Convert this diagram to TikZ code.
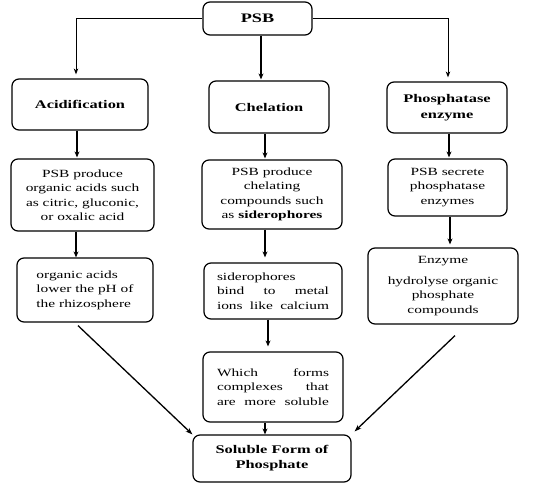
\documentclass[tikz,border=0pt]{standalone}
\usepackage{fontspec}
\setmainfont{Liberation Serif}[FakeStretch=1.4]
\usetikzlibrary{arrows.meta,calc}
\begin{document}
\begin{tikzpicture}[x=1pt,y=-1pt,
  box/.style={draw,line width=1.2pt,rounded corners=7pt,inner sep=0pt,align=center,
    font=\fontsize{11}{14.5}\selectfont},
  thinarr/.style={line width=0.9pt,-{Stealth[length=6pt,width=4.5pt]}},
  thickarr/.style={line width=1.8pt,-{Stealth[length=6pt,width=5pt]}},
  diagarr/.style={line width=1.3pt,-{Stealth[length=7pt,width=5pt]}}]
\useasboundingbox (0,0) rectangle (542,491);
\node[box,minimum width=109pt,minimum height=33pt,font=\fontsize{13}{15}\selectfont\bfseries] (psb) at (257.5,18.5) {PSB};
\node[box,minimum width=136pt,minimum height=51pt,font=\fontsize{11.7}{14.5}\selectfont\bfseries] (acid) at (80,104.5) {Acidification};
\node[box,minimum width=120pt,minimum height=52pt,font=\fontsize{11.7}{14.5}\selectfont\bfseries] (chel) at (269,107) {Chelation};
\node[box,minimum width=120pt,minimum height=51pt,font=\fontsize{11.7}{15.5}\selectfont\bfseries] (phos) at (447,107.5) {Phosphatase\\enzyme};
\node[box,minimum width=143pt,minimum height=72pt] (a2) at (82.5,195) {PSB produce\\organic acids such\\as citric, gluconic,\\or oxalic acid};
\node[box,minimum width=140pt,minimum height=69pt] (c2) at (272,194.5) {PSB produce\\chelating\\compounds such\\as \textbf{siderophores}};
\node[box,minimum width=119pt,minimum height=57pt] (p2) at (447.5,187.5) {PSB secrete\\phosphatase\\enzymes};
\node[box,minimum width=136pt,minimum height=64pt,align=left] (a3) at (85,290) {organic acids\\lower the pH of\\the rhizosphere};
\node[box,minimum width=138pt,minimum height=56pt,align=left] (c3) at (273,291) {\makebox[112pt][l]{siderophores}\\\makebox[112pt][s]{bind to metal}\\\makebox[112pt][s]{ions like calcium}};
\node[box,minimum width=150pt,minimum height=76pt] (p3) at (443,286) {Enzyme\\[6pt]hydrolyse organic\\phosphate\\compounds};
\node[box,minimum width=140pt,minimum height=70pt,align=left] (c4) at (273,387) {\makebox[112pt][s]{Which forms}\\\makebox[112pt][s]{complexes that}\\\makebox[112pt][s]{are more soluble}};
\node[box,minimum width=158pt,minimum height=47pt,font=\fontsize{11.7}{15}\selectfont\bfseries] (sol) at (272,458.5) {Soluble Form of\\Phosphate};
% connectors
\draw[thinarr] (psb.west) -| ($(acid.north)+(-4,-4)$);
\draw[thinarr] (psb.east) -| ($(phos.north)+(1,-4)$);
\draw[thickarr] ($(psb.south)+(3.5,0)$) -- ($(chel.north)+(-8,-1)$);
\draw[thickarr] ($(acid.south)+(-3,0)$) -- ($(a2.north)+(-5.5,-1)$);
\draw[thickarr] ($(chel.south)+(-4,0)$) -- ($(c2.north)+(-7,-1)$);
\draw[thickarr] ($(phos.south)+(2,0)$) -- ($(p2.north)+(1.5,-1)$);
\draw[thickarr] ($(a2.south)+(-6.5,0)$) -- ($(a3.north)+(-9,0)$);
\draw[thickarr] ($(c2.south)+(-7,0)$) -- ($(c3.north)+(-8,-5)$);
\draw[thickarr] ($(p2.south)+(2.5,0)$) -- ($(p3.north)+(7,-3)$);
\draw[thickarr] ($(c3.south)+(-5,0)$) -- ($(c4.north)+(-5,-5)$);
\draw[thickarr] ($(c4.south)+(-8,0)$) -- ($(sol.north)+(-7,0)$);
\draw[diagarr] ($(a3.south)+(-7,3)$) -- (sol.north west);
\draw[diagarr] ($(p3.south)+(12,11)$) -- ($(sol.north east)+(3,-3)$);
\end{tikzpicture}
\end{document}
